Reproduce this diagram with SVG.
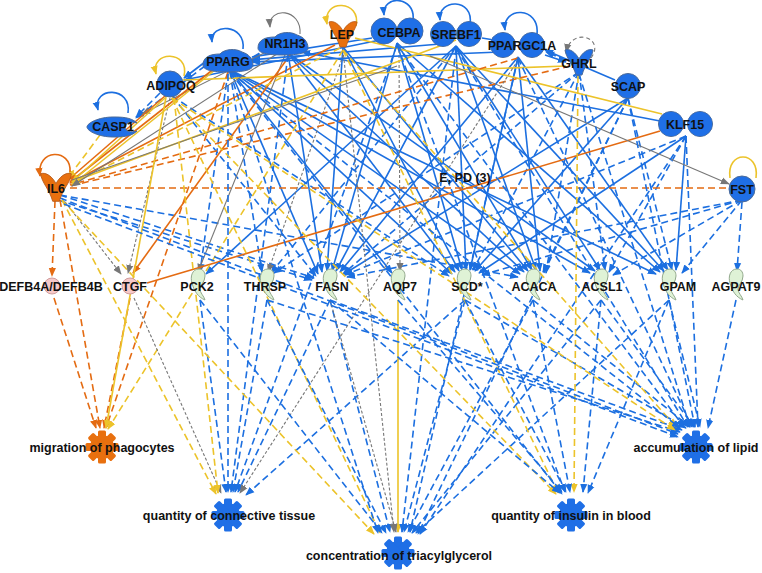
<svg xmlns="http://www.w3.org/2000/svg" width="762" height="573" viewBox="0 0 762 573">
<style>
.e{fill:none;stroke-width:1.6}
.b{stroke:#1c6fe0;marker-end:url(#mb)}
.bd{stroke:#1c6fe0;stroke-dasharray:7 4;marker-end:url(#mb)}
.o{stroke:#e46b12;marker-end:url(#mo)}
.od{stroke:#e46b12;stroke-dasharray:7 4;marker-end:url(#mo)}
.y{stroke:#ecc32a;marker-end:url(#my)}
.yd{stroke:#ecc32a;stroke-dasharray:7 4;marker-end:url(#my)}
.g{stroke:#777;stroke-width:1.1;marker-end:url(#mg)}
.gd{stroke:#777;stroke-width:1.1;stroke-dasharray:3 2;marker-end:url(#mg)}
.nm{marker-end:none}
.t{font-family:"Liberation Sans",Arial,sans-serif;font-weight:bold;font-size:12.5px;fill:#111;text-anchor:middle}
.bl{fill:#1f6fe6;stroke:#4c6b99;stroke-width:1}
.or{fill:#e8700f;stroke:#b65a1a;stroke-width:0.8}
.pk{fill:#f6c9c9;stroke:#d19c9c;stroke-width:1}
.gr{fill:#dff2d6;stroke:#93a98d;stroke-width:1}
</style>
<defs>
<marker id="mb" viewBox="0 0 10 8" refX="9" refY="4" markerWidth="9" markerHeight="8" markerUnits="userSpaceOnUse" orient="auto"><path d="M0,0L10,4L0,8z" fill="#1c6fe0"/></marker>
<marker id="mo" viewBox="0 0 10 8" refX="9" refY="4" markerWidth="9" markerHeight="8" markerUnits="userSpaceOnUse" orient="auto"><path d="M0,0L10,4L0,8z" fill="#e46b12"/></marker>
<marker id="my" viewBox="0 0 10 8" refX="9" refY="4" markerWidth="9" markerHeight="8" markerUnits="userSpaceOnUse" orient="auto"><path d="M0,0L10,4L0,8z" fill="#ecc32a"/></marker>
<marker id="mg" viewBox="0 0 10 8" refX="9" refY="4" markerWidth="9" markerHeight="8" markerUnits="userSpaceOnUse" orient="auto"><path d="M0,0L10,4L0,8z" fill="#777"/></marker>
<path id="nr" d="M-25,5 C-25,-3 -18,-6 -8,-6 C-4,-11 8,-12 14,-8 C21,-6 25,-1 25,5 C25,10 16,12 0,12 C-16,12 -25,10 -25,5 Z"/>
<path id="cy" d="M0,-3 C-3,-9 -9,-14 -14,-12 C-13,-4 -6,2 -3,13 L3,13 C6,2 13,-4 14,-12 C9,-14 3,-9 0,-3 Z"/>
<path id="enz" d="M1,-16 C-6,-16 -8,-8 -6,-2 C-4,6 0,12 7,15 C6,11 2,8 2,4 C2,0 7,-3 7,-9 C7,-13 5,-16 1,-16 Z"/>
<g id="gear"><circle r="12"/><rect x="-4" y="-16.5" width="8" height="33" rx="1.5"/><rect x="-4" y="-16.5" width="8" height="33" rx="1.5" transform="rotate(45)"/><rect x="-4" y="-16.5" width="8" height="33" rx="1.5" transform="rotate(90)"/><rect x="-4" y="-16.5" width="8" height="33" rx="1.5" transform="rotate(135)"/></g>
</defs>
<rect width="762" height="573" fill="#fff"/>
<g id="connectors" class="e">
<path class="b" d="M230,70L318,274"/>
<path class="b" d="M288,53L322,272"/>
<path class="b" d="M343,47L327,271"/>
<path class="b" d="M397,43L332,271"/>
<path class="b" d="M456,46L336,271"/>
<path class="b" d="M518,57L340,272"/>
<path class="b" d="M628,98L344,274"/>
<path class="bd" d="M686,136L345,275"/>
<path class="bd" d="M579,72L343,274"/>
<path class="bd" d="M742,200L347,277"/>
<path class="bd" d="M172,96L316,276"/>
<path class="bd" d="M60,195L314,278"/>
<path class="bd" d="M58,200L312,280"/>
<path class="b" d="M230,70L452,274"/>
<path class="b" d="M288,53L455,272"/>
<path class="b" d="M343,47L459,271"/>
<path class="b" d="M397,43L462,270"/>
<path class="b" d="M456,46L466,270"/>
<path class="b" d="M518,57L470,270"/>
<path class="b" d="M628,98L475,271"/>
<path class="b" d="M686,136L479,273"/>
<path class="bd" d="M579,72L473,270"/>
<path class="bd" d="M742,200L482,275"/>
<path class="bd" d="M172,96L449,276"/>
<path class="b" d="M230,70L520,274"/>
<path class="b" d="M288,53L524,272"/>
<path class="b" d="M343,47L528,271"/>
<path class="b" d="M397,43L532,270"/>
<path class="b" d="M456,46L536,270"/>
<path class="b" d="M518,57L540,271"/>
<path class="bd" d="M628,98L543,272"/>
<path class="bd" d="M579,72L546,273"/>
<path class="bd" d="M60,195L518,277"/>
<path class="b" d="M230,70L590,273"/>
<path class="b" d="M288,53L595,271"/>
<path class="b" d="M456,46L600,270"/>
<path class="bd" d="M686,136L609,272"/>
<path class="bd" d="M579,72L605,270"/>
<path class="bd" d="M742,200L613,275"/>
<path class="b" d="M397,43L660,272"/>
<path class="b" d="M456,46L664,271"/>
<path class="b" d="M518,57L668,270"/>
<path class="b" d="M686,136L676,270"/>
<path class="b" d="M230,70L656,274"/>
<path class="bd" d="M628,98L672,270"/>
<path class="bd" d="M742,200L682,273"/>
<path class="bd" d="M742,202L737,271"/>
<path class="b" d="M456,46L206,274"/>
<path class="bd" d="M228,72L200,272"/>
<path class="g" d="M285,55L198,272"/>
<path class="bd" d="M456,46L271,273"/>
<path class="bd" d="M230,72L262,272"/>
<path class="bd" d="M579,72L274,273"/>
<path class="gd" d="M345,50L268,272"/>
<path class="b" d="M230,70L392,273"/>
<path class="gd" d="M399,45L400,271"/>
<path class="gd" d="M62,198L121,274"/>
<path class="o" d="M290,55L133,273"/>
<path class="gd" d="M170,98L128,273"/>
<path class="o nm" d="M147,283L660,131"/>
<path class="od" d="M55,201L52,276"/>
<path class="b" d="M660,121L302,52"/>
<path class="b" d="M372,38L252,57"/>
<path class="b" d="M440,44L250,60"/>
<path class="b" d="M500,52L252,62"/>
<path class="b" d="M380,40L184,80"/>
<path class="b" d="M205,62L184,78"/>
<path class="b" d="M615,80L545,50"/>
<path class="bd" d="M566,60L546,52"/>
<path class="b" d="M482,38L500,41"/>
<path class="b" d="M545,55L566,62"/>
<path class="bd" d="M205,66L136,118"/>
<path class="bd" d="M160,93L136,117"/>
<path class="g" d="M270,50L142,114"/>
<path class="y nm" d="M355,38L662,114"/>
<path class="y nm" d="M183,80L566,66"/>
<path class="g" d="M430,56L729,184"/>
<path class="o" d="M215,68L70,182"/>
<path class="o" d="M335,45L70,183"/>
<path class="o" d="M165,96L68,180"/>
<path class="od nm" d="M518,58L70,185"/>
<path class="od nm" d="M570,66L70,186"/>
<path class="od nm" d="M70,188L729,188"/>
<path class="y" d="M165,98L72,182"/>
<path class="yd" d="M340,48L72,184"/>
<path class="yd" d="M100,135L68,178"/>
<path class="y" d="M215,70L72,185"/>
<path class="y" d="M456,40L72,182"/>
<path class="g" d="M280,52L72,186"/>
<path class="g nm" d="M397,66L72,180"/>
<path class="od" d="M54,298L96,428"/>
<path class="od" d="M60,200L100,428"/>
<path class="od" d="M130,298L104,428"/>
<path class="od" d="M228,72L106,428"/>
<path class="y" d="M166,97L106,428"/>
<path class="yd" d="M343,50L108,429"/>
<path class="yd" d="M62,200L216,494"/>
<path class="gd" d="M134,298L221,493"/>
<path class="yd" d="M174,98L218,493"/>
<path class="bd" d="M228,74L228,492"/>
<path class="bd" d="M288,55L231,492"/>
<path class="bd" d="M267,300L233,492"/>
<path class="bd" d="M397,45L235,492"/>
<path class="bd" d="M330,300L238,492"/>
<path class="gd" d="M518,60L240,493"/>
<path class="bd" d="M465,300L246,495"/>
<path class="bd" d="M200,300L226,492"/>
<path class="yd" d="M62,200L374,534"/>
<path class="yd" d="M172,98L380,533"/>
<path class="bd" d="M200,300L382,533"/>
<path class="bd" d="M230,72L378,533"/>
<path class="bd" d="M267,300L386,533"/>
<path class="bd" d="M330,300L390,532"/>
<path class="gd" d="M343,50L394,532"/>
<path class="y" d="M398,300L398,532"/>
<path class="bd" d="M465,300L404,532"/>
<path class="bd" d="M533,300L408,532"/>
<path class="bd" d="M601,300L412,533"/>
<path class="bd" d="M669,300L416,533"/>
<path class="bd" d="M456,48L402,532"/>
<path class="bd" d="M518,58L410,532"/>
<path class="bd" d="M628,98L418,534"/>
<path class="bd" d="M686,136L420,534"/>
<path class="gd" d="M330,300L396,532"/>
<path class="yd" d="M343,50L558,493"/>
<path class="yd" d="M578,76L574,492"/>
<path class="yd" d="M172,98L556,494"/>
<path class="bd" d="M330,300L560,493"/>
<path class="bd" d="M230,72L562,494"/>
<path class="bd" d="M397,45L565,492"/>
<path class="bd" d="M465,300L566,492"/>
<path class="bd" d="M533,300L570,492"/>
<path class="bd" d="M601,300L583,492"/>
<path class="bd" d="M669,300L588,493"/>
<path class="bd" d="M398,300L562,492"/>
<path class="bd" d="M736,300L708,428"/>
<path class="bd" d="M669,300L700,427"/>
<path class="bd" d="M601,300L694,427"/>
<path class="bd" d="M533,300L690,427"/>
<path class="bd" d="M465,300L686,428"/>
<path class="bd" d="M330,300L682,430"/>
<path class="bd" d="M267,300L680,432"/>
<path class="bd" d="M60,198L678,434"/>
<path class="bd" d="M64,204L678,437"/>
<path class="yd" d="M343,50L676,427"/>
<path class="yd" d="M172,98L675,430"/>
<path class="bd" d="M230,72L680,428"/>
<path class="bd" d="M397,45L684,427"/>
<path class="bd" d="M456,48L688,427"/>
<path class="bd" d="M518,58L692,427"/>
<path class="bd" d="M579,74L690,427"/>
<path class="bd" d="M628,98L695,427"/>
<path class="bd" d="M686,136L698,427"/>
<path class="b" d="M243,49C246,24 210,22 212,42"/>
<path class="g" d="M300,34C302,8 268,6 270,27"/>
<path class="y" d="M356,26C362,0 322,-2 327,24"/>
<path class="b" d="M413,20C416,-4 382,-6 384,15"/>
<path class="b" d="M470,24C474,-2 438,-2 440,20"/>
<path class="b" d="M537,34C540,6 502,6 505,30"/>
<path class="g" style="stroke-dasharray:4 3" d="M591,58C606,38 572,26 566,52"/>
<path class="y" d="M184,76C190,50 150,50 156,74"/>
<path class="b" d="M128,113C132,86 92,86 98,110"/>
<path class="o" d="M70,172C72,148 36,148 40,176"/>
<path class="y nm" d="M730,178C726,150 760,150 756,178"/>
</g>
<g id="n-IL6"><use href="#cy" class="or" transform="translate(56,187) scale(1.1)"/><text class="t" x="56" y="193">IL6</text></g>
<g id="n-CASP1"><path class="bl" d="M137,123C131,117 121,117 113,117C99,117 87,123 87,127C87,131 99,137 113,137C121,137 131,137 137,131C131,133 125,131 125,127C125,123 131,121 137,123Z"/><text class="t" x="113" y="131">CASP1</text></g>
<g id="n-ADIPOQ"><circle class="bl" cx="170" cy="84" r="13"/><text class="t" x="171" y="90">ADIPOQ</text></g>
<g id="n-PPARG"><use href="#nr" class="bl" transform="translate(228,60)"/><text class="t" x="228" y="66">PPARG</text></g>
<g id="n-NR1H3"><use href="#nr" class="bl" transform="translate(283,43)"/><text class="t" x="285" y="48">NR1H3</text></g>
<g id="n-LEP"><use href="#cy" class="or" transform="translate(343,34)"/><text class="t" x="342" y="39">LEP</text></g>
<g id="n-CEBPA"><circle class="bl" cx="384" cy="31" r="13"/><circle class="bl" cx="410" cy="31" r="13"/><circle fill="#1f6fe6" cx="384" cy="31" r="12.5"/><circle fill="#1f6fe6" cx="410" cy="31" r="12.5"/><text class="t" x="399" y="37">CEBPA</text></g>
<g id="n-SREBF1"><circle class="bl" cx="443" cy="34" r="12.5"/><circle class="bl" cx="469" cy="34" r="12.5"/><circle fill="#1f6fe6" cx="443" cy="34" r="12"/><circle fill="#1f6fe6" cx="469" cy="34" r="12"/><text class="t" x="456" y="39">SREBF1</text></g>
<g id="n-PPARGC1A"><circle class="bl" cx="503" cy="45" r="12.5"/><circle class="bl" cx="532" cy="45" r="12.5"/><circle fill="#1f6fe6" cx="503" cy="45" r="12"/><circle fill="#1f6fe6" cx="532" cy="45" r="12"/><text class="t" x="522" y="50">PPARGC1A</text></g>
<g id="n-GHRL"><use href="#cy" class="bl" transform="translate(579,62)"/><text class="t" x="579" y="68">GHRL</text></g>
<g id="n-SCAP"><circle class="bl" cx="628" cy="86" r="12.5"/><text class="t" x="628" y="91">SCAP</text></g>
<g id="n-KLF15"><circle class="bl" cx="671" cy="124" r="12.5"/><circle class="bl" cx="700" cy="124" r="12.5"/><circle fill="#1f6fe6" cx="671" cy="124" r="12"/><circle fill="#1f6fe6" cx="700" cy="124" r="12"/><text class="t" x="685" y="129">KLF15</text></g>
<g id="n-FST"><circle class="bl" cx="742" cy="189" r="13"/><text class="t" x="742" y="194">FST</text></g>
<g id="n-EPD"><text class="t" x="465" y="182">E, PD (3)</text></g>
<g id="n-DEFB4A"><circle class="pk" cx="52" cy="286" r="8"/><text class="t" x="51" y="291">DEFB4A/DEFB4B</text></g>
<g id="n-CTGF"><circle class="pk" cx="130" cy="286" r="8"/><text class="t" x="130" y="291">CTGF</text></g>
<g id="n-PCK2"><use href="#enz" class="gr" transform="translate(198,285)"/><text class="t" x="197" y="291">PCK2</text></g>
<g id="n-THRSP"><use href="#enz" class="gr" transform="translate(267,285)"/><text class="t" x="265" y="291">THRSP</text></g>
<g id="n-FASN"><use href="#enz" class="gr" transform="translate(330,285)"/><text class="t" x="332" y="291">FASN</text></g>
<g id="n-AQP7"><use href="#enz" class="gr" transform="translate(398,285)"/><text class="t" x="400" y="291">AQP7</text></g>
<g id="n-SCD"><use href="#enz" class="gr" transform="translate(464,285)"/><text class="t" x="467" y="291">SCD*</text></g>
<g id="n-ACACA"><use href="#enz" class="gr" transform="translate(533,285)"/><text class="t" x="534" y="291">ACACA</text></g>
<g id="n-ACSL1"><use href="#enz" class="gr" transform="translate(601,285)"/><text class="t" x="602" y="291">ACSL1</text></g>
<g id="n-GPAM"><use href="#enz" class="gr" transform="translate(669,285)"/><text class="t" x="678" y="291">GPAM</text></g>
<g id="n-AGPAT9"><use href="#enz" class="gr" transform="translate(736,285)"/><text class="t" x="736" y="291">AGPAT9</text></g>
<g id="f-MIG"><use href="#gear" fill="#e8700f" transform="translate(102,447)"/><text class="t" x="102" y="452">migration of phagocytes</text></g>
<g id="f-QCT"><use href="#gear" fill="#1f6fe6" transform="translate(228,515)"/><text class="t" x="229" y="520">quantity of connective tissue</text></g>
<g id="f-CTG"><use href="#gear" fill="#1f6fe6" transform="translate(398,553)"/><text class="t" x="399" y="560">concentration of triacylglycerol</text></g>
<g id="f-QIB"><use href="#gear" fill="#1f6fe6" transform="translate(571,515)"/><text class="t" x="571" y="520">quantity of insulin in blood</text></g>
<g id="f-ACL"><use href="#gear" fill="#1f6fe6" transform="translate(696,447)"/><text class="t" x="696" y="452">accumulation of lipid</text></g>
</svg>
